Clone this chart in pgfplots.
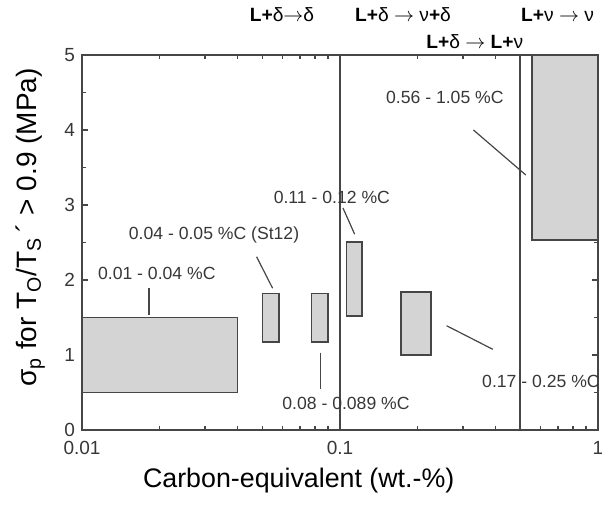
\documentclass[border=0pt]{standalone}
\usepackage{fontspec}
\setmainfont{Liberation Sans}
\usepackage{pgfplots}
\pgfplotsset{compat=1.18}
\definecolor{boxgray}{RGB}{212,212,212}
\definecolor{edge}{RGB}{70,70,70}
\definecolor{txt}{RGB}{55,55,55}

\begin{document}
\begin{tikzpicture}
\begin{axis}[name=ax, xmode=log, scale only axis, width=258pt, height=187.5pt,
  xmin=0.01, xmax=1, ymin=0, ymax=5, clip=false,
  xtick={0.01,0.1,1}, xticklabels={0.01,0.1,1},
  minor xtick={0.02,0.03,0.04,0.05,0.06,0.07,0.08,0.09,0.2,0.3,0.4,0.5,0.6,0.7,0.8,0.9},
  ytick={0,1,2,3,4,5}, minor ytick={0.5,1.5,2.5,3.5,4.5},
  tick align=inside, major tick length=3pt, minor tick length=2pt,
  tick style={edge, line width=0.7pt},
  axis line style={edge, line width=0.8pt},
  /pgf/number format/assume math mode=true,
  ticklabel style={font=\fontsize{9.5}{11}\selectfont, text=txt},
  xticklabel style={yshift=-2pt},
  xlabel={Carbon-equivalent (wt.-\%)},
  xlabel style={at={(axis description cs:0.42,-0.135)}, anchor=center,
    font=\fontsize{13.4}{15}\selectfont},
  ylabel={σ\textsubscript{p} for T\textsubscript{O}/T\textsubscript{S}\,´ > 0.9 (MPa)},
  ylabel style={at={(axis description cs:-0.10,0.54)}, anchor=center, rotate=0,
    font=\fontsize{14}{16}\selectfont},
]
% grey ranges
\addplot[fill=boxgray, draw=edge, line width=0.8pt] coordinates {(0.01,0.5) (0.04,0.5) (0.04,1.5) (0.01,1.5)} --cycle;
\addplot[fill=boxgray, draw=edge, line width=0.8pt] coordinates {(0.050,1.17) (0.058,1.17) (0.058,1.82) (0.050,1.82)} --cycle;
\addplot[fill=boxgray, draw=edge, line width=0.8pt] coordinates {(0.0777,1.17) (0.090,1.17) (0.090,1.82) (0.0777,1.82)} --cycle;
\addplot[fill=boxgray, draw=edge, line width=0.8pt] coordinates {(0.106,1.52) (0.122,1.52) (0.122,2.51) (0.106,2.51)} --cycle;
\addplot[fill=boxgray, draw=edge, line width=0.8pt] coordinates {(0.172,1.0) (0.225,1.0) (0.225,1.84) (0.172,1.84)} --cycle;
\addplot[fill=boxgray, draw=edge, line width=0.8pt] coordinates {(0.556,2.53) (1,2.53) (1,5) (0.556,5)} --cycle;
% phase boundaries
\addplot[edge, line width=1pt] coordinates {(0.1,0) (0.1,5)};
\addplot[edge, line width=1pt] coordinates {(0.5,0) (0.5,5)};
% leader lines
\addplot[edge, line width=0.6pt] coordinates {(0.0182,1.89) (0.0182,1.53)};
\addplot[edge, line width=0.6pt] coordinates {(0.0475,2.31) (0.0548,1.89)};
\addplot[edge, line width=0.6pt] coordinates {(0.1027,2.96) (0.114,2.61)};
\addplot[edge, line width=0.6pt] coordinates {(0.0842,1.03) (0.0842,0.55)};
\addplot[edge, line width=0.6pt] coordinates {(0.259,1.39) (0.391,1.076)};
\addplot[edge, line width=0.6pt] coordinates {(0.329,4.0) (0.525,3.4)};
% labels
\begin{scope}[every node/.style={font=\fontsize{8.8}{10}\selectfont, text=txt}]
\node at (axis cs:0.0195,2.09) {0.01 - 0.04 \%C};
\node at (axis cs:0.0325,2.60) {0.04 - 0.05 \%C (St12)};
\node at (axis cs:0.093,3.10) {0.11 - 0.12 \%C};
\node at (axis cs:0.1055,0.35) {0.08 - 0.089 \%C};
\node at (axis cs:0.601,0.65) {0.17 - 0.25 \%C};
\node at (axis cs:0.255,4.44) {0.56 - 1.05 \%C};
\end{scope}
\begin{scope}[every node/.style={font=\fontsize{9.6}{11}\selectfont, text=black}]
\node at (axis cs:0.0596,5.533) {\textbf{L+}δ$\rightarrow$δ};
\node at (axis cs:0.1755,5.533) {\textbf{L+}δ $\rightarrow$ ν\textbf{+}δ};
\node at (axis cs:0.333,5.177) {\textbf{L+}δ $\rightarrow$ \textbf{L+}ν};
\node at (axis cs:0.697,5.533) {\textbf{L+}ν $\rightarrow$ ν};
\end{scope}
\end{axis}
\pgfresetboundingbox
\path ([shift={(-41pt,-41.5pt)}]ax.south west) rectangle ([shift={(2pt,27.5pt)}]ax.north east);
\end{tikzpicture}
\end{document}
